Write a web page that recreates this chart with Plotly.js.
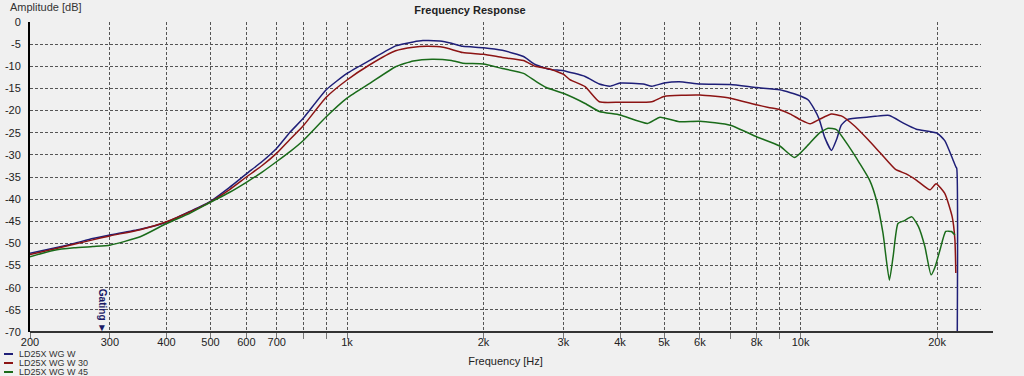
<!DOCTYPE html>
<html><head><meta charset="utf-8">
<script src="https://cdn.plot.ly/plotly-3.0.1.min.js"></script>
<style>html,body{margin:0;padding:0;background:#f0f0f0;}#chart{width:1024px;height:376px;}</style>
</head><body><div id="chart"></div>
<script>
const seriesNames = ['LD25X WG W', 'LD25X WG W 30', 'LD25X WG W 45'];
const seriesColors = ['#1f1f78', '#8c1414', '#1a6b1a'];

const freqW = [200,225,250,275,300,350,400,450,500,550,600,650,700,750,800,900,1000,1125,1280,1400,1470,1600,1700,1800,2000,2200,2450,2600,2800,3000,3350,3600,3800,4000,4500,4700,5000,5400,6000,7000,8000,9000,10000,10400,10700,11000,11300,11700,12000,12300,12700,14000,14600,15700,16900,18000,20000,20800,21700,22000,22100,22150];
const dbW = [-52.2,-51.1,-50.0,-48.9,-48.1,-46.8,-45.2,-42.8,-40.5,-37.4,-34.3,-31.5,-28.5,-24.8,-21.8,-15.3,-11.6,-8.6,-5.4,-4.5,-4.2,-4.3,-4.8,-5.5,-5.8,-6.4,-7.8,-9.6,-10.7,-11.0,-12.3,-14.0,-14.5,-13.8,-14.0,-14.5,-13.8,-13.5,-14.0,-14.1,-14.8,-15.3,-16.7,-17.6,-19.5,-22.0,-26.0,-29.0,-26.6,-23.3,-22.0,-21.5,-21.3,-21.1,-22.9,-24.2,-25.1,-26.8,-31.2,-32.7,-33.0,-75];

const freqW30 = [200,225,250,275,300,350,400,450,500,550,600,650,700,750,800,900,1000,1125,1280,1400,1500,1630,1800,2000,2200,2450,2600,2800,3000,3100,3350,3600,4000,4700,5000,6000,7000,8000,8500,9000,9500,10000,10500,11000,11700,12300,13200,14100,15000,16200,17100,18000,19300,19900,20800,21600,21900,22000];
const dbW30 = [-52.5,-51.3,-50.2,-49.2,-48.3,-46.9,-45.1,-42.9,-40.6,-37.9,-35.0,-32.4,-29.6,-26.4,-23.5,-17.0,-13.1,-9.6,-6.5,-5.7,-5.5,-5.7,-6.9,-7.3,-8.0,-8.7,-10.0,-10.6,-11.8,-13.0,-14.6,-18.0,-18.1,-18.0,-16.8,-16.5,-17.2,-18.7,-19.3,-19.8,-20.8,-22.1,-23.0,-22.0,-20.8,-21.2,-23.6,-26.6,-29.6,-33.3,-34.3,-35.7,-37.9,-36.5,-38.7,-44.0,-49.2,-56.7];

const freqW45 = [200,225,250,275,300,350,400,450,500,550,600,650,700,750,800,900,1000,1125,1280,1400,1540,1700,1800,2000,2200,2450,2600,2750,3000,3350,3600,4000,4600,4900,5400,6000,7000,8000,9000,9700,10300,11000,11500,12000,12800,13500,14200,14700,15200,15700,16000,16400,16900,17600,18200,18800,19400,19800,20300,20900,21500,21900];
const dbW45 = [-53.0,-51.6,-51.0,-50.7,-50.4,-48.5,-45.5,-43.2,-40.7,-38.5,-36.2,-33.9,-31.5,-29.2,-26.8,-21.4,-17.2,-13.8,-10.1,-8.8,-8.4,-8.7,-9.3,-9.5,-10.5,-11.6,-13.3,-14.8,-16.1,-18.4,-20.2,-21.0,-22.9,-21.5,-22.5,-22.4,-23.3,-25.9,-28.0,-30.6,-28.2,-25.1,-24.0,-24.3,-28.2,-31.9,-35.7,-40.2,-47.7,-58.3,-53.0,-45.5,-44.9,-44.0,-46.2,-50.7,-57.1,-55.3,-51.5,-47.3,-47.3,-48.1];

const tickFreqs = [200,300,400,500,600,700,800,900,1000,2000,3000,4000,5000,6000,7000,8000,9000,10000,20000];
const tickLabels = ['200','300','400','500','600','700','','','1k','2k','3k','4k','5k','6k','','8k','','10k','20k'];
const dbTicks = [0,-5,-10,-15,-20,-25,-30,-35,-40,-45,-50,-55,-60,-65,-70];
const dbTickLabels = ['0','-5','-10','-15','-20','-25','-30','-35','-40','-45','-50','-55','-60','-65','-70'];
const freqRange = [200, 25000];
const dbRange = [-70, 0];
const gatingFreq = 290;

const W = 1024, H = 376;
const mL = 30, mR = 43, mT = 22, mB = 44;
const pw = W - mL - mR, ph = H - mT - mB;
const px2paperX = x => (x - mL) / pw;
const px2paperY = y => (H - mB - y) / ph;

const allX = [freqW, freqW30, freqW45];
const allY = [dbW, dbW30, dbW45];
const traces = seriesNames.map((n, i) => ({
  x: allX[i], y: allY[i], name: n, type: 'scatter', mode: 'lines',
  line: {color: seriesColors[i], width: 1.5, shape: 'spline', smoothing: 0.5},
  showlegend: false, hoverinfo: 'skip'
}));

const font = 'Liberation Sans, Arial, sans-serif';
const shapes = [{
  type: 'line', xref: 'paper', yref: 'paper', x0: px2paperX(30), x1: px2paperX(993), y0: 0, y1: 0,
  line: {color: '#333', width: 2}
}];
const annotations = [
  {text: 'Amplitude [dB]', xref: 'paper', yref: 'paper', x: px2paperX(8), y: px2paperY(7),
   xanchor: 'left', yanchor: 'middle', showarrow: false, font: {family: font, size: 11, color: '#333'}},
  {text: 'Gating ►', xref: 'x', yref: 'paper', x: Math.log10(gatingFreq), y: px2paperY(311),
   xanchor: 'center', yanchor: 'middle', textangle: 90, showarrow: false,
   font: {family: font, size: 10, color: '#1a1a66', weight: 'bold'}}
];
const legendRows = [354, 363, 372];
seriesNames.forEach((n, i) => {
  shapes.push({type: 'line', xref: 'paper', yref: 'paper', x0: px2paperX(4), x1: px2paperX(13),
    y0: px2paperY(legendRows[i]), y1: px2paperY(legendRows[i]), line: {color: seriesColors[i], width: 2}});
  annotations.push({text: n, xref: 'paper', yref: 'paper', x: px2paperX(17), y: px2paperY(legendRows[i]),
    xanchor: 'left', yanchor: 'middle', showarrow: false, font: {family: font, size: 9, color: '#333'}});
});

const layout = {
  width: W, height: H,
  margin: {l: mL, r: mR, t: mT, b: mB, pad: 0},
  paper_bgcolor: '#f0f0f0', plot_bgcolor: '#f0f0f0',
  showlegend: false,
  title: {text: 'Frequency Response', x: 470 / W, xanchor: 'center', xref: 'container',
    y: 1 - 10 / H, yanchor: 'middle', yref: 'container',
    font: {family: font, size: 11, color: '#222', weight: 'bold'}},
  xaxis: {
    type: 'log', range: freqRange.map(Math.log10),
    tickmode: 'array', tickvals: tickFreqs, ticktext: tickLabels,
    showgrid: true, gridcolor: '#555', griddash: '3px,2px', gridwidth: 1,
    ticks: 'outside', ticklen: 6, tickcolor: '#777', tickwidth: 1,
    showline: false, zeroline: false,
    tickfont: {family: font, size: 11, color: '#222'}, ticklabelstandoff: -6,
    title: {text: 'Frequency [Hz]', standoff: 10, font: {family: font, size: 11, color: '#222'}},
    automargin: false, fixedrange: true
  },
  yaxis: {
    range: dbRange, tickmode: 'array', tickvals: dbTicks, ticktext: dbTickLabels,
    showgrid: true, gridcolor: '#555', griddash: '3px,2px', gridwidth: 1,
    ticks: '', showline: true, linecolor: '#000', linewidth: 2, zeroline: false,
    tickfont: {family: font, size: 11, color: '#222'}, ticklabelstandoff: 5,
    automargin: false, fixedrange: true
  },
  shapes: shapes, annotations: annotations
};
Plotly.newPlot('chart', traces, layout, {displayModeBar: false, staticPlot: true});
</script></body></html>
